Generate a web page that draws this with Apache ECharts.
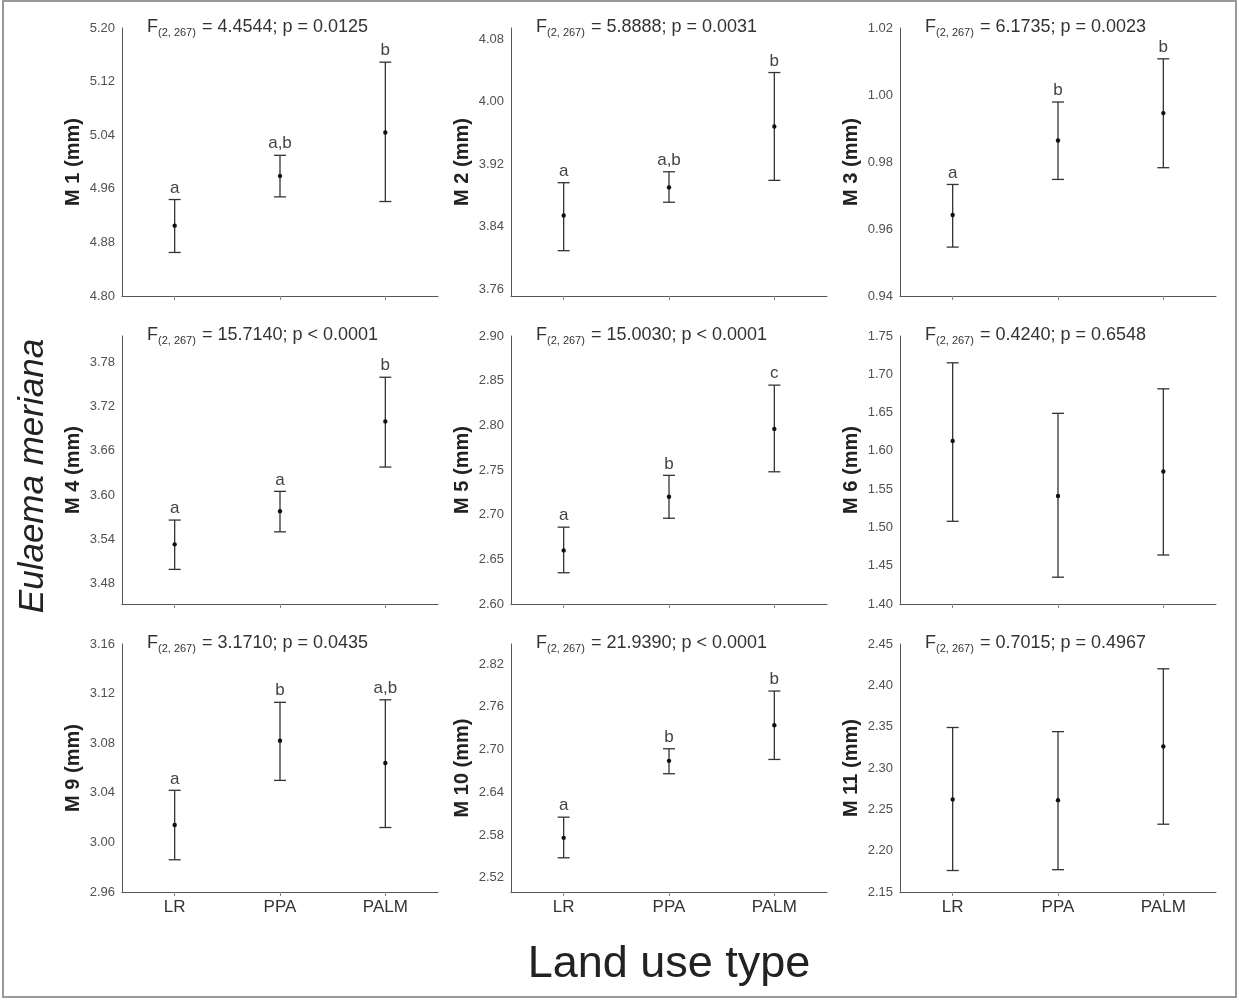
<!DOCTYPE html>
<html>
<head>
    <meta http-equiv="Content-Type" content="text/html; charset=UTF-8">
    <script type="text/javascript" src="https://cdn.jsdelivr.net/npm/echarts@6/dist/echarts.min.js" charset="utf-8"></script>
    <style>
        html, body { margin: 0; padding: 0; background: #fff; }
        #main { width: 1239px; height: 1000px; }
    </style>
</head>
<body>
<div id="main"></div>
<script>
// categories
var landUse = ['LR', 'PPA', 'PALM'];

// M 1
var m1Mean = [4.905, 4.979, 5.044];
var m1Low = [4.865, 4.948, 4.941];
var m1High = [4.944, 5.010, 5.149];
var m1Letters = ['a', 'a,b', 'b'];
var m1Ticks = [4.80, 4.88, 4.96, 5.04, 5.12, 5.20];
// M 2
var m2Mean = [3.854, 3.890, 3.968];
var m2Low = [3.809, 3.871, 3.899];
var m2High = [3.896, 3.910, 4.037];
var m2Letters = ['a', 'a,b', 'b'];
var m2Ticks = [3.76, 3.84, 3.92, 4.00, 4.08];
// M 3
var m3Mean = [0.9642, 0.9864, 0.9946];
var m3Low = [0.9546, 0.9748, 0.9783];
var m3High = [0.9733, 0.9979, 1.0108];
var m3Letters = ['a', 'b', 'b'];
var m3Ticks = [0.94, 0.96, 0.98, 1.00, 1.02];
// M 4
var m4Mean = [3.533, 3.578, 3.700];
var m4Low = [3.499, 3.550, 3.638];
var m4High = [3.566, 3.605, 3.760];
var m4Letters = ['a', 'a', 'b'];
var m4Ticks = [3.48, 3.54, 3.60, 3.66, 3.72, 3.78];
// M 5
var m5Mean = [2.660, 2.720, 2.796];
var m5Low = [2.635, 2.696, 2.748];
var m5High = [2.686, 2.744, 2.845];
var m5Letters = ['a', 'b', 'c'];
var m5Ticks = [2.60, 2.65, 2.70, 2.75, 2.80, 2.85, 2.90];
// M 6
var m6Mean = [1.613, 1.541, 1.573];
var m6Low = [1.508, 1.435, 1.464];
var m6High = [1.715, 1.649, 1.681];
var m6Letters = ['', '', ''];
var m6Ticks = [1.40, 1.45, 1.50, 1.55, 1.60, 1.65, 1.70, 1.75];
// M 9
var m9Mean = [3.014, 3.082, 3.064];
var m9Low = [2.986, 3.050, 3.012];
var m9High = [3.042, 3.113, 3.115];
var m9Letters = ['a', 'b', 'a,b'];
var m9Ticks = [2.96, 3.00, 3.04, 3.08, 3.12, 3.16];
// M 10
var m10Mean = [2.576, 2.684, 2.734];
var m10Low = [2.548, 2.666, 2.686];
var m10High = [2.605, 2.701, 2.782];
var m10Letters = ['a', 'b', 'b'];
var m10Ticks = [2.52, 2.58, 2.64, 2.70, 2.76, 2.82];
// M 11
var m11Mean = [2.262, 2.261, 2.326];
var m11Low = [2.176, 2.177, 2.232];
var m11High = [2.349, 2.344, 2.420];
var m11Letters = ['', '', ''];
var m11Ticks = [2.15, 2.20, 2.25, 2.30, 2.35, 2.40, 2.45];

// F tests
var fValues = ['4.4544', '5.8888', '6.1735', '15.7140', '15.0030', '0.4240', '3.1710', '21.9390', '0.7015'];
var pValues = ['= 0.0125', '= 0.0031', '= 0.0023', '< 0.0001', '< 0.0001', '= 0.6548', '= 0.0435', '< 0.0001', '= 0.4967'];

var panels = [
    {name: 'M 1 (mm)', mean: m1Mean, low: m1Low, high: m1High, letters: m1Letters, ticks: m1Ticks, min: 4.80, max: 5.20},
    {name: 'M 2 (mm)', mean: m2Mean, low: m2Low, high: m2High, letters: m2Letters, ticks: m2Ticks, min: 3.751, max: 4.094},
    {name: 'M 3 (mm)', mean: m3Mean, low: m3Low, high: m3High, letters: m3Letters, ticks: m3Ticks, min: 0.94, max: 1.02},
    {name: 'M 4 (mm)', mean: m4Mean, low: m4Low, high: m4High, letters: m4Letters, ticks: m4Ticks, min: 3.452, max: 3.816},
    {name: 'M 5 (mm)', mean: m5Mean, low: m5Low, high: m5High, letters: m5Letters, ticks: m5Ticks, min: 2.60, max: 2.90},
    {name: 'M 6 (mm)', mean: m6Mean, low: m6Low, high: m6High, letters: m6Letters, ticks: m6Ticks, min: 1.40, max: 1.75},
    {name: 'M 9 (mm)', mean: m9Mean, low: m9Low, high: m9High, letters: m9Letters, ticks: m9Ticks, min: 2.96, max: 3.16},
    {name: 'M 10 (mm)', mean: m10Mean, low: m10Low, high: m10High, letters: m10Letters, ticks: m10Ticks, min: 2.50, max: 2.848},
    {name: 'M 11 (mm)', mean: m11Mean, low: m11Low, high: m11High, letters: m11Letters, ticks: m11Ticks, min: 2.15, max: 2.45}
];

var colLeft = [122, 511, 900];
var rowTop = [28, 336, 644];
var rowBottom = [296, 604, 892];
var plotWidth = 316;

var fontName = 'Liberation Sans, Arial, sans-serif';

var myChart = echarts.init(document.getElementById('main'));

var grids = [], xAxes = [], yAxes = [], titles = [], series = [];

panels.forEach(function (p, i) {
    var col = i % 3, row = Math.floor(i / 3);
    grids.push({
        left: colLeft[col],
        top: rowTop[row],
        width: plotWidth,
        height: rowBottom[row] - rowTop[row]
    });
    xAxes.push({
        gridIndex: i,
        type: 'category',
        data: landUse,
        boundaryGap: true,
        axisLine: {lineStyle: {color: '#555', width: 1}},
        axisTick: {show: true, alignWithLabel: true, length: 4, lineStyle: {color: '#888'}},
        axisLabel: {show: row === 2, color: '#333', fontSize: 17, fontFamily: fontName, margin: 7},
        splitLine: {show: false}
    });
    yAxes.push({
        gridIndex: i,
        type: 'value',
        min: p.min,
        max: p.max,
        name: p.name,
        nameLocation: 'middle',
        nameGap: 39,
        nameRotate: 90,
        nameTextStyle: {color: '#222', fontSize: 20, fontWeight: 'bold', fontFamily: fontName},
        axisLine: {show: true, lineStyle: {color: '#555', width: 1}},
        axisTick: {show: false},
        axisLabel: {
            color: '#505050', fontSize: 13, fontFamily: fontName, margin: 7,
            customValues: p.ticks,
            formatter: function (v) { return v.toFixed(2); }
        },
        splitLine: {show: false}
    });
    titles.push({
        text: 'F{sub|(2, 267)} = ' + fValues[i] + '; p ' + pValues[i],
        left: colLeft[col] + 25,
        top: rowTop[row] - 11,
        padding: 0,
        textStyle: {
            color: '#333', fontSize: 18, fontWeight: 'normal', fontFamily: fontName,
            rich: {
                sub: {fontSize: 11, color: '#333', fontFamily: fontName, padding: [10, 1, 0, 0]}
            }
        }
    });
    var data = p.mean.map(function (m, k) {
        return [k, m, p.low[k], p.high[k]];
    });
    series.push({
        type: 'custom',
        xAxisIndex: i,
        yAxisIndex: i,
        data: data,
        renderItem: function (params, api) {
            var x = api.value(0);
            var mid = api.coord([x, api.value(1)]);
            var lo = api.coord([x, api.value(2)]);
            var hi = api.coord([x, api.value(3)]);
            var hw = 6;
            var stroke = {stroke: '#333', lineWidth: 1.3};
            var children = [
                {type: 'line', shape: {x1: lo[0], y1: lo[1], x2: hi[0], y2: hi[1]}, style: stroke},
                {type: 'line', shape: {x1: lo[0] - hw, y1: lo[1], x2: lo[0] + hw, y2: lo[1]}, style: stroke},
                {type: 'line', shape: {x1: hi[0] - hw, y1: hi[1], x2: hi[0] + hw, y2: hi[1]}, style: stroke},
                {type: 'circle', shape: {cx: mid[0], cy: mid[1], r: 2.2}, style: {fill: '#111'}}
            ];
            var letter = p.letters[params.dataIndex];
            if (letter) {
                children.push({
                    type: 'text',
                    style: {
                        text: letter, x: hi[0], y: hi[1] - 3,
                        align: 'center', verticalAlign: 'bottom',
                        fill: '#444', fontSize: 17, fontFamily: fontName
                    }
                });
            }
            return {type: 'group', children: children};
        }
    });
});

myChart.setOption({
    backgroundColor: '#fff',
    animation: false,
    title: titles,
    grid: grids,
    xAxis: xAxes,
    yAxis: yAxes,
    series: series,
    graphic: [
        {
            type: 'rect',
            shape: {x: 3, y: 1, width: 1233, height: 996},
            style: {fill: 'none', stroke: '#999', lineWidth: 2}
        },
        {
            type: 'text',
            x: 33, y: 476, rotation: Math.PI / 2,
            style: {
                text: 'Eulaema meriana', align: 'center', verticalAlign: 'middle',
                fill: '#222', fontSize: 35, fontStyle: 'italic', fontFamily: fontName
            }
        },
        {
            type: 'text',
            x: 669, y: 965,
            style: {
                text: 'Land use type', align: 'center', verticalAlign: 'middle',
                fill: '#222', fontSize: 45, fontFamily: fontName
            }
        }
    ]
});
</script>
</body>
</html>
